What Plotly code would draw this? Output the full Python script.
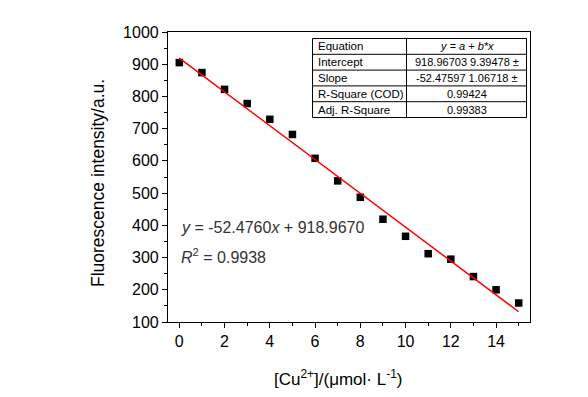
import plotly.graph_objects as go

# ---- data ----
cu_conc = [0, 1, 2, 3, 4, 5, 6, 7, 8, 9, 10, 11, 12, 13, 14, 15]
intensity = [905, 874, 822, 778, 729, 682, 608, 538, 487, 419, 366, 312, 295, 241, 200, 159]

fit_intercept = 918.96703
fit_slope = -52.47597
fit_x = [0, 15]

table_labels = ["Equation", "Intercept", "Slope", "R-Square (COD)", "Adj. R-Square"]
table_values = ["<i>y = a + b*x</i>", "918.96703 9.39478 ±", "-52.47597 1.06718 ±", "0.99424", "0.99383"]

eq_text = "<i>y</i> = -52.4760<i>x</i> + 918.9670"
r2_text = "<i>R</i><sup>2</sup> = 0.9938"

x_ticks = [0, 2, 4, 6, 8, 10, 12, 14]
y_ticks = [100, 200, 300, 400, 500, 600, 700, 800, 900, 1000]

OFF = 8  # default page body margin
W, H = 588 - OFF, 397 - OFF
PL, PR, PT, PB = 168, 530, 32, 322  # plot area in page pixels
ML, MT = PL - OFF, PT - OFF
MR, MB = 588 - PR, 397 - PB
PW, PH = PR - PL, PB - PT

def px(x):
    return (x - PL) / PW

def py(y):
    return (PB - y) / PH

FONT = "Liberation Sans, Arial, sans-serif"

fit_y = [fit_intercept + fit_slope * v for v in fit_x]

fig = go.Figure()
fig.add_trace(go.Scatter(
    x=cu_conc, y=intensity, mode="markers",
    marker=dict(symbol="square", size=7.5, color="black", line=dict(width=0)),
    showlegend=False))
fig.add_trace(go.Scatter(
    x=fit_x, y=fit_y, mode="lines",
    line=dict(color="red", width=1.5), showlegend=False))

axis_common = dict(
    showline=True, linecolor="black", linewidth=1.2, mirror=True,
    ticks="outside", ticklen=5, tickwidth=1.2, tickcolor="black",
    showgrid=False, zeroline=False,
    tickfont=dict(family=FONT, size=16, color="black"),
)
fig.update_xaxes(range=[-0.5, 15.5], tickvals=x_ticks,
                 minor=dict(ticks="outside", ticklen=3, tickwidth=1.2, tickcolor="black", dtick=1, showgrid=False),
                 **axis_common)
fig.update_yaxes(range=[100, 1000], tickvals=y_ticks,
                 minor=dict(ticks="outside", ticklen=3, tickwidth=1.2, tickcolor="black", dtick=50, showgrid=False),
                 **axis_common)

annotations = []
# axis titles
annotations.append(dict(
    text="[Cu<sup>2+</sup>]/(μmol· L<sup>-1</sup>)", x=px(338), y=py(378),
    xref="paper", yref="paper", showarrow=False, xanchor="center", yanchor="middle",
    font=dict(family=FONT, size=17, color="black")))
annotations.append(dict(
    text="Fluorescence intensity/a.u.", x=px(98), y=py(183), textangle=-90,
    xref="paper", yref="paper", showarrow=False, xanchor="center", yanchor="middle",
    font=dict(family=FONT, size=17.5, color="black")))
# equation text
annotations.append(dict(
    text=eq_text, x=px(179), y=py(227), xref="paper", yref="paper", showarrow=False,
    xanchor="left", yanchor="middle", font=dict(family=FONT, size=16, color="#333333")))
annotations.append(dict(
    text=r2_text, x=px(179), y=py(256), xref="paper", yref="paper", showarrow=False,
    xanchor="left", yanchor="middle", font=dict(family=FONT, size=16, color="#333333")))

# table
tx0, tx1, tdiv = 312.5, 526.5, 406.5
ty0, ty1 = 38.5, 117.5
rh = (ty1 - ty0) / len(table_labels)
shapes = []
shapes.append(dict(type="rect", xref="paper", yref="paper",
                   x0=px(tx0), x1=px(tx1), y0=py(ty1), y1=py(ty0),
                   line=dict(color="black", width=1), fillcolor="white", layer="above"))
shapes.append(dict(type="line", xref="paper", yref="paper",
                   x0=px(tdiv), x1=px(tdiv), y0=py(ty1), y1=py(ty0),
                   line=dict(color="black", width=1), layer="above"))
for i in range(1, len(table_labels)):
    yy = ty0 + i * rh
    shapes.append(dict(type="line", xref="paper", yref="paper",
                       x0=px(tx0), x1=px(tx1), y0=py(yy), y1=py(yy),
                       line=dict(color="black", width=1), layer="above"))
for i, (lab, val) in enumerate(zip(table_labels, table_values)):
    yc = ty0 + (i + 0.5) * rh
    annotations.append(dict(text=lab, x=px(tx0 + 3), y=py(yc), xref="paper", yref="paper",
                            showarrow=False, xanchor="left", yanchor="middle",
                            font=dict(family=FONT, size=11.5, color="black")))
    annotations.append(dict(text=val, x=px((tdiv + tx1) / 2), y=py(yc), xref="paper", yref="paper",
                            showarrow=False, xanchor="center", yanchor="middle",
                            font=dict(family=FONT, size=11, color="black")))

fig.update_layout(
    width=W, height=H, autosize=False,
    margin=dict(l=ML, r=MR, t=MT, b=MB, pad=0),
    paper_bgcolor="white", plot_bgcolor="white",
    annotations=annotations, shapes=shapes,
    font=dict(family=FONT),
)

fig.write_html("out.html")
